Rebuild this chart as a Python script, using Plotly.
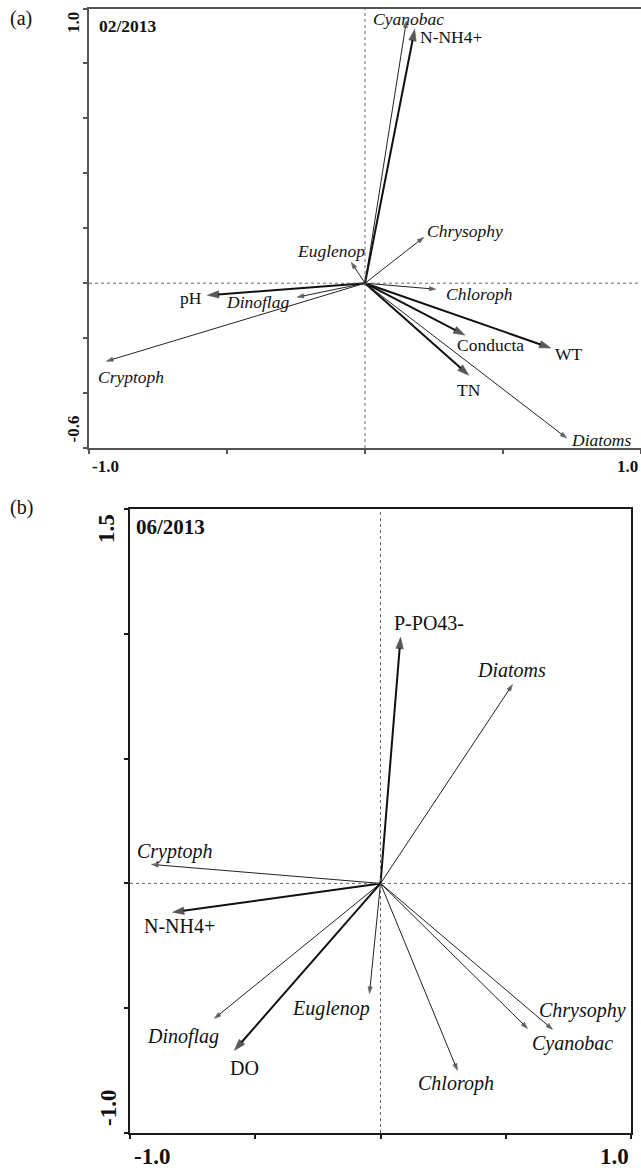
import plotly.graph_objects as go

# ---------------- data ----------------
# Panel (a): February 2013
a_species = ["Cyanobac", "Chrysophy", "Euglenop", "Chloroph", "Diatoms", "Dinoflag", "Cryptoph"]
a_species_x = [0.150, 0.213, -0.050, 0.257, 0.731, -0.246, -0.937]
a_species_y = [0.955, 0.167, 0.076, -0.022, -0.564, -0.051, -0.284]
a_env = ["N-NH4+", "pH", "Conducta", "WT", "TN"]
a_env_x = [0.180, -0.571, 0.362, 0.673, 0.376]
a_env_y = [0.924, -0.044, -0.189, -0.236, -0.335]

# Panel (b): June 2013
b_species = ["Diatoms", "Cryptoph", "Dinoflag", "Euglenop", "Chloroph", "Cyanobac", "Chrysophy"]
b_species_x = [0.527, -0.914, -0.663, -0.044, 0.307, 0.587, 0.687]
b_species_y = [0.797, 0.076, -0.541, -0.441, -0.749, -0.581, -0.585]
b_env = ["P-PO43-", "N-NH4+", "DO"]
b_env_x = [0.080, -0.830, -0.583]
b_env_y = [0.986, -0.116, -0.669]

# axis ticks and end labels
a_xticks = [-1.0, -0.5, 0.0, 0.5, 1.0]
a_yticks = [-0.6, -0.4, -0.2, 0.0, 0.2, 0.4, 0.6, 0.8, 1.0]
a_xrange = [-1.0, 1.0]
a_yrange = [-0.6, 1.0]
a_xlabels = ["-1.0", "1.0"]
a_ylabels = ["1.0", "-0.6"]
b_xticks = [-1.0, -0.5, 0.0, 0.5, 1.0]
b_yticks = [-1.0, -0.5, 0.0, 0.5, 1.0, 1.5]
b_xrange = [-1.0, 1.0]
b_yrange = [-1.0, 1.5]
b_xlabels = ["-1.0", "1.0"]
b_ylabels = ["1.5", "-1.0"]

panel_titles = ["(a)", "(b)"]
dates = ["02/2013", "06/2013"]

# ---------------- styles ----------------
W, H = 641, 1168
SERIF = "Liberation Serif, Times New Roman, Times, serif"
THIN_COL = "#222222"
THICK_COL = "#111111"

# label placement relative to arrow tip: (xshift px, yshift px, xanchor)
a_offsets = {
    "Cyanobac": (2, 2, "center"), "Chrysophy": (1, 6, "left"),
    "Euglenop": (-20, 11, "center"), "Chloroph": (8, -5, "left"),
    "Diatoms": (2, -2, "left"), "Dinoflag": (-6, -5, "right"),
    "Cryptoph": (-10, -16, "left"), "N-NH4+": (3, -8, "left"),
    "pH": (-3, -3, "right"), "Conducta": (-10, -10, "left"),
    "WT": (2, -6, "left"), "TN": (0, -15, "center"),
}
b_offsets = {
    "Diatoms": (-1, 14, "center"), "Cryptoph": (-17, 13, "left"),
    "Dinoflag": (7, -18, "right"), "Euglenop": (3, -15, "right"),
    "Chloroph": (-1, -13, "center"), "Cyanobac": (2, -15, "left"),
    "Chrysophy": (-16, 19, "left"), "P-PO43-": (-9, 14, "left"),
    "N-NH4+": (-31, -14, "left"), "DO": (10, -18, "center"),
}


def px_x(p):
    return p / W


def px_y(p):
    return 1 - p / H


fig = go.Figure()
annotations = []


def add_arrows(names, xs, ys, xa, ya, thick, offsets, fsize):
    col = THICK_COL if thick else THIN_COL
    for name, x, y in zip(names, xs, ys):
        fig.add_trace(go.Scatter(
            x=[0, x], y=[0, y], xaxis=xa, yaxis=ya,
            mode="lines+markers",
            line=dict(color=col, width=2.0 if thick else 1.0),
            marker=dict(symbol="arrow", angleref="previous",
                        size=[0, 12 if thick else 7], color=col,
                        line=dict(width=0.6, color=col)),
            hoverinfo="skip", showlegend=False,
        ))
        dx, dy, anchor = offsets[name]
        annotations.append(dict(
            x=x, y=y, xref=xa, yref=ya, text=name, showarrow=False,
            xanchor=anchor, yanchor="middle", xshift=dx, yshift=dy,
            font=dict(family=SERIF, size=fsize, color="#111",
                      style="normal" if thick else "italic"),
        ))


add_arrows(a_species, a_species_x, a_species_y, "x", "y", False, a_offsets, 17.5)
add_arrows(a_env, a_env_x, a_env_y, "x", "y", True, a_offsets, 17.5)
add_arrows(b_species, b_species_x, b_species_y, "x2", "y2", False, b_offsets, 20)
add_arrows(b_env, b_env_x, b_env_y, "x2", "y2", True, b_offsets, 20)

# plot areas in pixels: (left, right, top, bottom)
a_box = (89, 641, 8.5, 448)
b_box = (130, 631, 509, 1133)


def axis(box_lo, box_hi, rng, ticks, color, mirror):
    return dict(
        domain=[box_lo, box_hi], range=rng, showgrid=False, zeroline=False,
        showline=True, linecolor=color, linewidth=2, mirror=mirror,
        ticks="outside", tickvals=ticks, ticklen=4, tickwidth=1.5,
        tickcolor=color, showticklabels=False, fixedrange=True,
    )


fig.update_layout(
    xaxis=axis(px_x(a_box[0]), px_x(a_box[1]), a_xrange, a_xticks, "#555", True),
    yaxis=axis(px_y(a_box[3]), px_y(a_box[2]), a_yrange, a_yticks, "#555", False),
    xaxis2=axis(px_x(b_box[0]), px_x(b_box[1]), b_xrange, b_xticks, "#1a1a1a", True),
    yaxis2=axis(px_y(b_box[3]), px_y(b_box[2]), b_yrange, b_yticks, "#1a1a1a", True),
)
fig.layout.xaxis2.anchor = "y2"
fig.layout.yaxis2.anchor = "x2"

# dotted zero lines
shapes = []
for xr, yr in (("x", "y"), ("x2", "y2")):
    shapes.append(dict(type="line", xref=xr, yref=yr + " domain", x0=0, x1=0, y0=0, y1=1,
                       line=dict(color="#666", width=1, dash="dot")))
    shapes.append(dict(type="line", xref=xr + " domain", yref=yr, x0=0, x1=1, y0=0, y1=0,
                       line=dict(color="#666", width=1, dash="dot")))


def bold(text, size, **kw):
    return dict(text=text, showarrow=False,
                font=dict(family=SERIF, size=size, color="#111", weight="bold"), **kw)


# end-of-axis labels, panel (a)
annotations += [
    bold(a_ylabels[0], 17, x=px_x(73.5), xref="paper", y=a_yrange[1], yref="y",
         yshift=-14, textangle=-90, xanchor="center", yanchor="middle"),
    bold(a_ylabels[1], 17, x=px_x(72.5), xref="paper", y=a_yrange[0], yref="y",
         yshift=19, textangle=-90, xanchor="center", yanchor="middle"),
    bold(a_xlabels[0], 17, x=a_xrange[0], xref="x", y=px_y(466), yref="paper",
         xshift=1, xanchor="left", yanchor="middle"),
    bold(a_xlabels[1], 17, x=a_xrange[1], xref="x", y=px_y(466), yref="paper",
         xshift=-1, xanchor="right", yanchor="middle"),
]
# end-of-axis labels, panel (b)
annotations += [
    bold(b_ylabels[0], 23, x=px_x(106), xref="paper", y=b_yrange[1], yref="y2",
         yshift=-20, textangle=-90, xanchor="center", yanchor="middle"),
    bold(b_ylabels[1], 23, x=px_x(108), xref="paper", y=b_yrange[0], yref="y2",
         yshift=25, textangle=-90, xanchor="center", yanchor="middle"),
    bold(b_xlabels[0], 23, x=b_xrange[0], xref="x2", y=px_y(1156), yref="paper",
         xshift=2, xanchor="left", yanchor="middle"),
    bold(b_xlabels[1], 23, x=b_xrange[1], xref="x2", y=px_y(1156), yref="paper",
         xshift=0, xanchor="right", yanchor="middle"),
]
# dates inside the plot areas
annotations += [
    bold(dates[0], 17.5, x=0, xref="x domain", y=1, yref="y domain",
         xshift=8, yshift=-17, xanchor="left", yanchor="middle"),
    bold(dates[1], 21, x=0, xref="x2 domain", y=1, yref="y2 domain",
         xshift=4, yshift=-18, xanchor="left", yanchor="middle"),
]
# panel letters
for t, yc in zip(panel_titles, (18, 507)):
    annotations.append(dict(text=t, showarrow=False, x=px_x(8), y=px_y(yc),
                            xref="paper", yref="paper", xanchor="left", yanchor="middle",
                            font=dict(family=SERIF, size=20, color="#111")))

fig.update_layout(
    width=W, height=H, margin=dict(l=0, r=0, t=0, b=0),
    paper_bgcolor="white", plot_bgcolor="white",
    shapes=shapes, annotations=annotations, showlegend=False,
)

fig.write_html("out.html")
